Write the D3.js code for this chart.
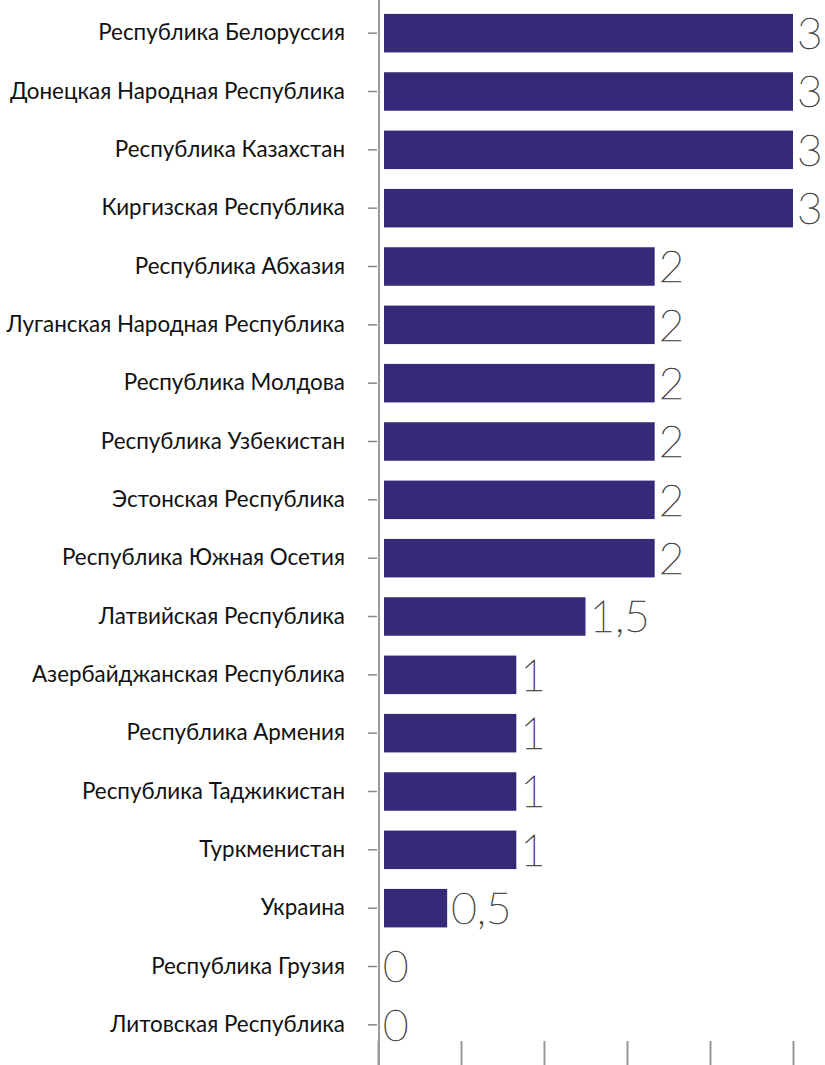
<!DOCTYPE html>
<html><head><meta charset="utf-8">
<script src="https://cdn.jsdelivr.net/npm/d3@7"></script>
<style>
html,body{margin:0;padding:0;background:#fff;}
svg{display:block;}
.lbl text{font-family:Lato,"Noto Sans",sans-serif;font-size:22.4px;fill:#111;}
.val{font-family:Lato,"Noto Sans",sans-serif;font-weight:100;font-size:44px;fill:#333;stroke:#444;stroke-width:0.6px;}
</style></head>
<body>
<script>
const categories = [
  "Республика Белоруссия",
  "Донецкая Народная Республика",
  "Республика Казахстан",
  "Киргизская Республика",
  "Республика Абхазия",
  "Луганская Народная Республика",
  "Республика Молдова",
  "Республика Узбекистан",
  "Эстонская Республика",
  "Республика Южная Осетия ",
  "Латвийская Республика",
  "Азербайджанская Республика",
  "Республика Армения",
  "Республика Таджикистан ",
  "Туркменистан",
  "Украина ",
  "Республика Грузия",
  "Литовская Республика"
];
const values = [3, 3, 3, 3, 2, 2, 2, 2, 2, 2, 1.5, 1, 1, 1, 1, 0.5, 0, 0];
const valueLabels = ["3","3","3","3","2","2","2","2","2","2","1,5","1","1","1","1","0,5","0","0"];
const xTicks = [0, 0.6, 1.2, 1.8, 2.4, 3.0];

const W = 825, H = 1065;
const svg = d3.select("body").append("svg").attr("width", W).attr("height", H);

const x = d3.scaleLinear().domain([0, 3]).range([378, 793]);
const y = d3.scaleBand().domain(categories).range([4, 1054]).paddingInner(0.34).paddingOuter(0.17);
const barOffset = 6;

// bars
svg.append("g").selectAll("rect").data(categories).join("rect")
  .attr("x", x(0) + barOffset)
  .attr("y", d => y(d))
  .attr("height", y.bandwidth())
  .attr("width", (d, i) => values[i] > 0 ? Math.max(0, x(values[i]) - x(0) - barOffset) : 0)
  .attr("fill", "#352a78");

// value labels
svg.append("g").selectAll("text").data(categories).join("text")
  .attr("class", "val")
  .attr("x", (d, i) => values[i] > 0 ? x(values[i]) + 4 : x(0) + 5)
  .attr("y", d => y(d) + y.bandwidth() / 2)
  .attr("dy", "0.36em")
  .text((d, i) => valueLabels[i]);

// y axis
const yAxis = svg.append("g").attr("class", "lbl")
  .attr("transform", "translate(377,0)")
  .call(d3.axisLeft(y).tickSizeInner(9).tickSizeOuter(0).tickPadding(23));
yAxis.select(".domain").remove();
yAxis.selectAll(".tick line").attr("stroke", "#888").attr("stroke-width", 1.5);

// vertical axis line
svg.append("line").attr("x1", 379).attr("x2", 379).attr("y1", 0).attr("y2", H)
  .attr("stroke", "#999").attr("stroke-width", 2);

// bottom ticks
const xAxis = svg.append("g").attr("transform", `translate(0,${H + 1})`)
  .call(d3.axisTop(x).tickValues(xTicks).tickSizeInner(25).tickSizeOuter(0).tickFormat(""));
xAxis.select(".domain").remove();
xAxis.selectAll(".tick line").attr("stroke", "#999").attr("stroke-width", 2);
</script>
</body></html>
